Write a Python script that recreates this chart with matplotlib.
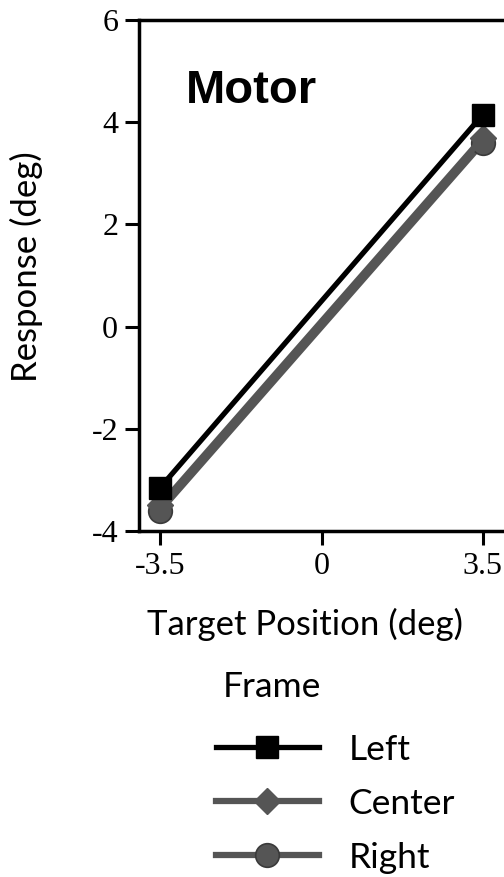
import numpy as np
import matplotlib.pyplot as plt

# data
target = np.array([-3.5, 3.5])
resp_left = np.array([-3.15, 4.15])
resp_center = np.array([-3.5, 3.7])
resp_right = np.array([-3.6, 3.6])

xticks = [-3.5, 0, 3.5]
xticklabels = ["-3.5", "0", "3.5"]
yticks = [-4, -2, 0, 2, 4, 6]
yticklabels = ["-4", "-2", "0", "2", "4", "6"]

serif = "Liberation Serif"
sans = "Lato"
gray = "#555555"

fig = plt.figure(figsize=(5.04, 8.77), dpi=100)
ax = fig.add_axes([139 / 504, 1 - 531 / 877, 1 - 139 / 504 + 0.002, (531 - 20) / 877])

# right first so the others sit on top
ax.plot(target, resp_right, color=gray, lw=4.5, marker="o", ms=17,
        mfc=gray, mec="#3a3a3a", mew=1.2, label="Right", zorder=3)
ax.plot(target, resp_center, color=gray, lw=4.5, marker="D", ms=13,
        mfc=gray, mec=gray, label="Center", zorder=4)
ax.plot(target, resp_left, color="black", lw=3.8, marker="s", ms=16,
        mfc="black", mec="black", label="Left", zorder=5)

ax.set_xlim(-3.96, 3.98)
ax.set_ylim(-4, 6)
ax.set_xticks(xticks)
ax.set_xticklabels(xticklabels, family=serif, fontsize=23)
ax.set_yticks(yticks)
ax.set_yticklabels(yticklabels, family=serif, fontsize=23)
ax.tick_params(width=2.2, length=10, pad=5, color="black")

ax.spines["right"].set_visible(False)
for s in ["left", "bottom", "top"]:
    ax.spines[s].set_linewidth(2.5)

ax.set_xlabel("Target Position (deg)", family=sans, fontsize=25)
ax.xaxis.set_label_coords((305 - 139) / (504 - 139), -0.151)
ax.set_ylabel("Response (deg)", family=sans, fontsize=25)
ax.yaxis.set_label_coords(-0.262, 0.517)

ax.text(0.127, 0.862, "Motor", transform=ax.transAxes, family="Liberation Sans",
        fontweight="bold", fontsize=34, ha="left", va="center")

fig.text(272 / 504, 1 - 687 / 877, "Frame", family=sans, fontsize=25.5,
         ha="center", va="center")

h, l = ax.get_legend_handles_labels()
order = [2, 1, 0]
leg = fig.legend([h[i] for i in order], [l[i] for i in order],
                 loc="upper left", bbox_to_anchor=(184 / 504, 1 - 702 / 877),
                 frameon=False, handlelength=2.9,
                 labelspacing=0.62, handletextpad=0.85,
                 prop={"family": sans, "size": 25.5})

fig.savefig("out.png", dpi=100)
